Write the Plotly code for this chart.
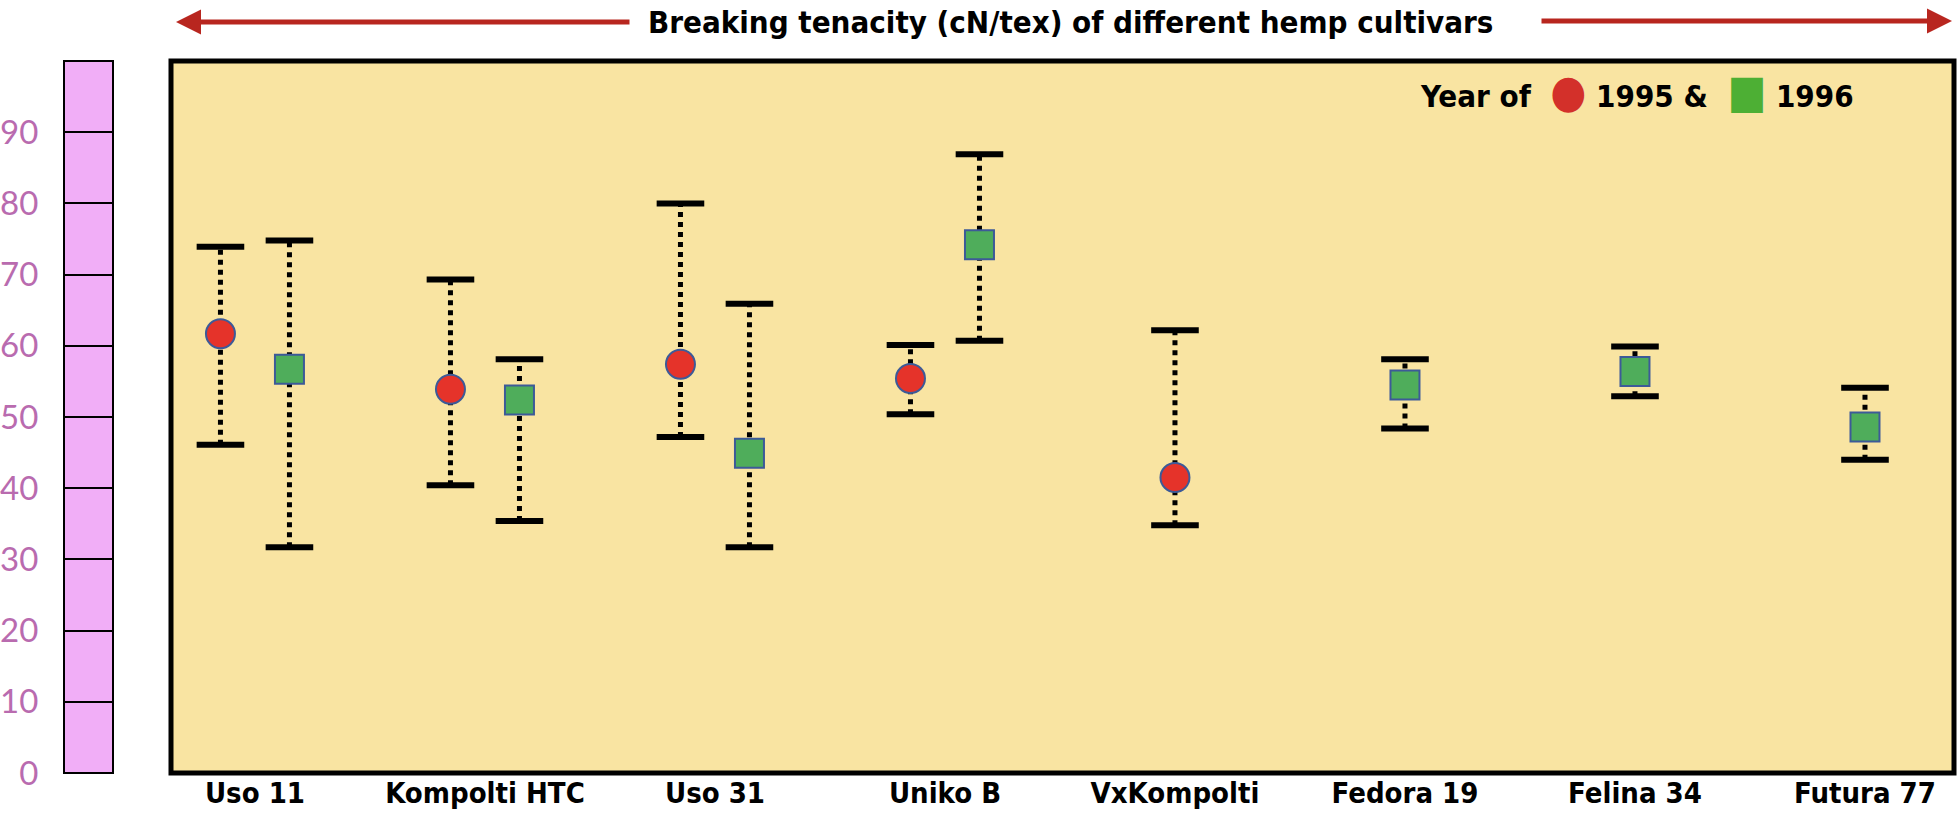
import plotly.graph_objects as go

cultivars = ["Uso 11", "Kompolti HTC", "Uso 31", "Uniko B", "VxKompolti", "Fedora 19", "Felina 34", "Futura 77"]

# breaking tenacity (cN/tex): mean, low and high end of the range
mean_1995 = [61.7, 53.9, 57.4, 55.4, 41.5, None, None, None]
low_1995 = [46.1, 40.4, 47.2, 50.4, 34.8, None, None, None]
high_1995 = [73.9, 69.3, 80.0, 60.1, 62.2, None, None, None]

mean_1996 = [56.7, 52.4, 44.9, 74.2, None, 54.5, 56.4, 48.6]
low_1996 = [31.7, 35.4, 31.7, 60.7, None, 48.4, 52.9, 44.0]
high_1996 = [74.8, 58.1, 65.9, 86.9, None, 58.1, 59.9, 54.1]

scale_ticks = list(range(0, 100, 10))

FONT = "DejaVu Sans Condensed, Liberation Sans Narrow, sans-serif"
W, H = 1960, 822


def positions(own, other, side):
    # shift the point sideways only when both years exist for the cultivar
    xs = []
    for i, (a, b) in enumerate(zip(own, other)):
        xs.append(i + side * 0.15 if b is not None else i)
    return xs


x95 = positions(mean_1995, mean_1996, -1)
x96 = positions(mean_1996, mean_1995, 1)


def whiskers(xs, lo, hi):
    wx, wy = [], []
    for x, a, b in zip(xs, lo, hi):
        if a is None:
            continue
        wx += [x, x, None]
        wy += [a, b, None]
    return wx, wy


fig = go.Figure()

for xs, m, lo, hi, sym, col, name in [
    (x95, mean_1995, low_1995, high_1995, "circle", "#E5332A", "1995"),
    (x96, mean_1996, low_1996, high_1996, "square", "#4FAD5B", "1996"),
]:
    wx, wy = whiskers(xs, lo, hi)
    fig.add_trace(go.Scatter(
        x=wx, y=wy, mode="lines", showlegend=False, hoverinfo="skip",
        line=dict(color="black", width=5, dash="5px,5px"),
    ))
    caps_x = [x for x, a in zip(xs, lo) if a is not None]
    fig.add_trace(go.Scatter(
        x=caps_x + caps_x,
        y=[a for a in lo if a is not None] + [b for b in hi if b is not None],
        mode="markers", showlegend=False, hoverinfo="skip",
        marker=dict(symbol="line-ew", size=34, line=dict(color="black", width=6)),
    ))
    fig.add_trace(go.Scatter(
        x=xs, y=m, mode="markers", name=name, showlegend=False,
        marker=dict(symbol=sym, size=29, color=col, line=dict(color="#3D5A98", width=2)),
    ))

# helper trace so the pink scale subplot exists
fig.add_trace(go.Scatter(x=[0.5], y=[0], xaxis="x2", yaxis="y2", mode="markers",
                         marker=dict(opacity=0), showlegend=False, hoverinfo="skip"))

fig.update_layout(
    width=W, height=H,
    margin=dict(l=0, r=0, t=61, b=49),
    paper_bgcolor="white",
    plot_bgcolor="rgba(0,0,0,0)",
    showlegend=False,
    xaxis=dict(
        domain=[171 / W, 1954 / W],
        range=[-0.365, 7.387],
        tickvals=list(range(len(cultivars))),
        ticktext=cultivars,
        showgrid=False, zeroline=False, showline=False,
        ticks="", automargin=False,
        ticklabeloverflow="allow",
        tickfont=dict(family=FONT, size=29, color="black", weight="bold"),
    ),
    yaxis=dict(range=[0, 100], visible=False, automargin=False),
    xaxis2=dict(domain=[64 / W, 113 / W], range=[0, 1], visible=False, anchor="y2",
                automargin=False),
    yaxis2=dict(
        anchor="x2", range=[0, 100], automargin=False,
        tickvals=scale_ticks, ticktext=[str(v) for v in scale_ticks],
        showgrid=True, gridcolor="black", gridwidth=2,
        zeroline=False, showline=False,
        ticks="outside", ticklen=18, tickcolor="rgba(0,0,0,0)",
        tickfont=dict(family="Lato, Open Sans, sans-serif", size=33, color="#B96BAF"),
    ),
    shapes=[
        dict(type="rect", xref="x domain", yref="y domain", x0=0, x1=1, y0=0, y1=1,
             fillcolor="#F9E4A2", line=dict(color="black", width=5), layer="below"),
        dict(type="rect", xref="x2 domain", yref="y2 domain", x0=0, x1=1, y0=0, y1=1,
             fillcolor="#F1AEF7", line=dict(width=0), layer="below"),
        dict(type="rect", xref="x2 domain", yref="y2 domain", x0=0, x1=1, y0=0, y1=1,
             fillcolor="rgba(0,0,0,0)", line=dict(color="black", width=2), layer="above"),
    ],
)


def py(px):
    return (773 - px) / 712


fig.add_annotation(
    text="Breaking tenacity (cN/tex) of different hemp cultivars",
    xref="paper", yref="paper", x=1070 / W, y=py(22), yanchor="middle", showarrow=False,
    font=dict(family=FONT, size=31, color="black", weight="bold"),
)
fig.add_annotation(
    text="", xref="paper", yref="paper", x=176 / W, y=py(22),
    ax=455, ay=0, showarrow=True, arrowhead=2, arrowsize=1, arrowwidth=5,
    arrowcolor="#B8261F", standoff=0,
)
fig.add_annotation(
    text="", xref="paper", yref="paper", x=1952 / W, y=py(21),
    ax=-412, ay=0, showarrow=True, arrowhead=2, arrowsize=1, arrowwidth=5,
    arrowcolor="#B8261F", standoff=0,
)
fig.add_annotation(
    text="Year of  <span style='color:#D3302A;font-size:46px'>●</span> 1995 &  "
         "<span style='color:#4DAF34;font-size:46px'>■</span> 1996",
    xref="paper", yref="paper", x=1418 / W, y=py(91), xanchor="left", yanchor="middle",
    showarrow=False,
    font=dict(family=FONT, size=31, color="black", weight="bold"),
)

# the page body has a default 8px margin; drop it so the figure sits at the corner
fig.write_html("out.html", config={"displayModeBar": False},
               post_script="document.body.style.margin='0';")
